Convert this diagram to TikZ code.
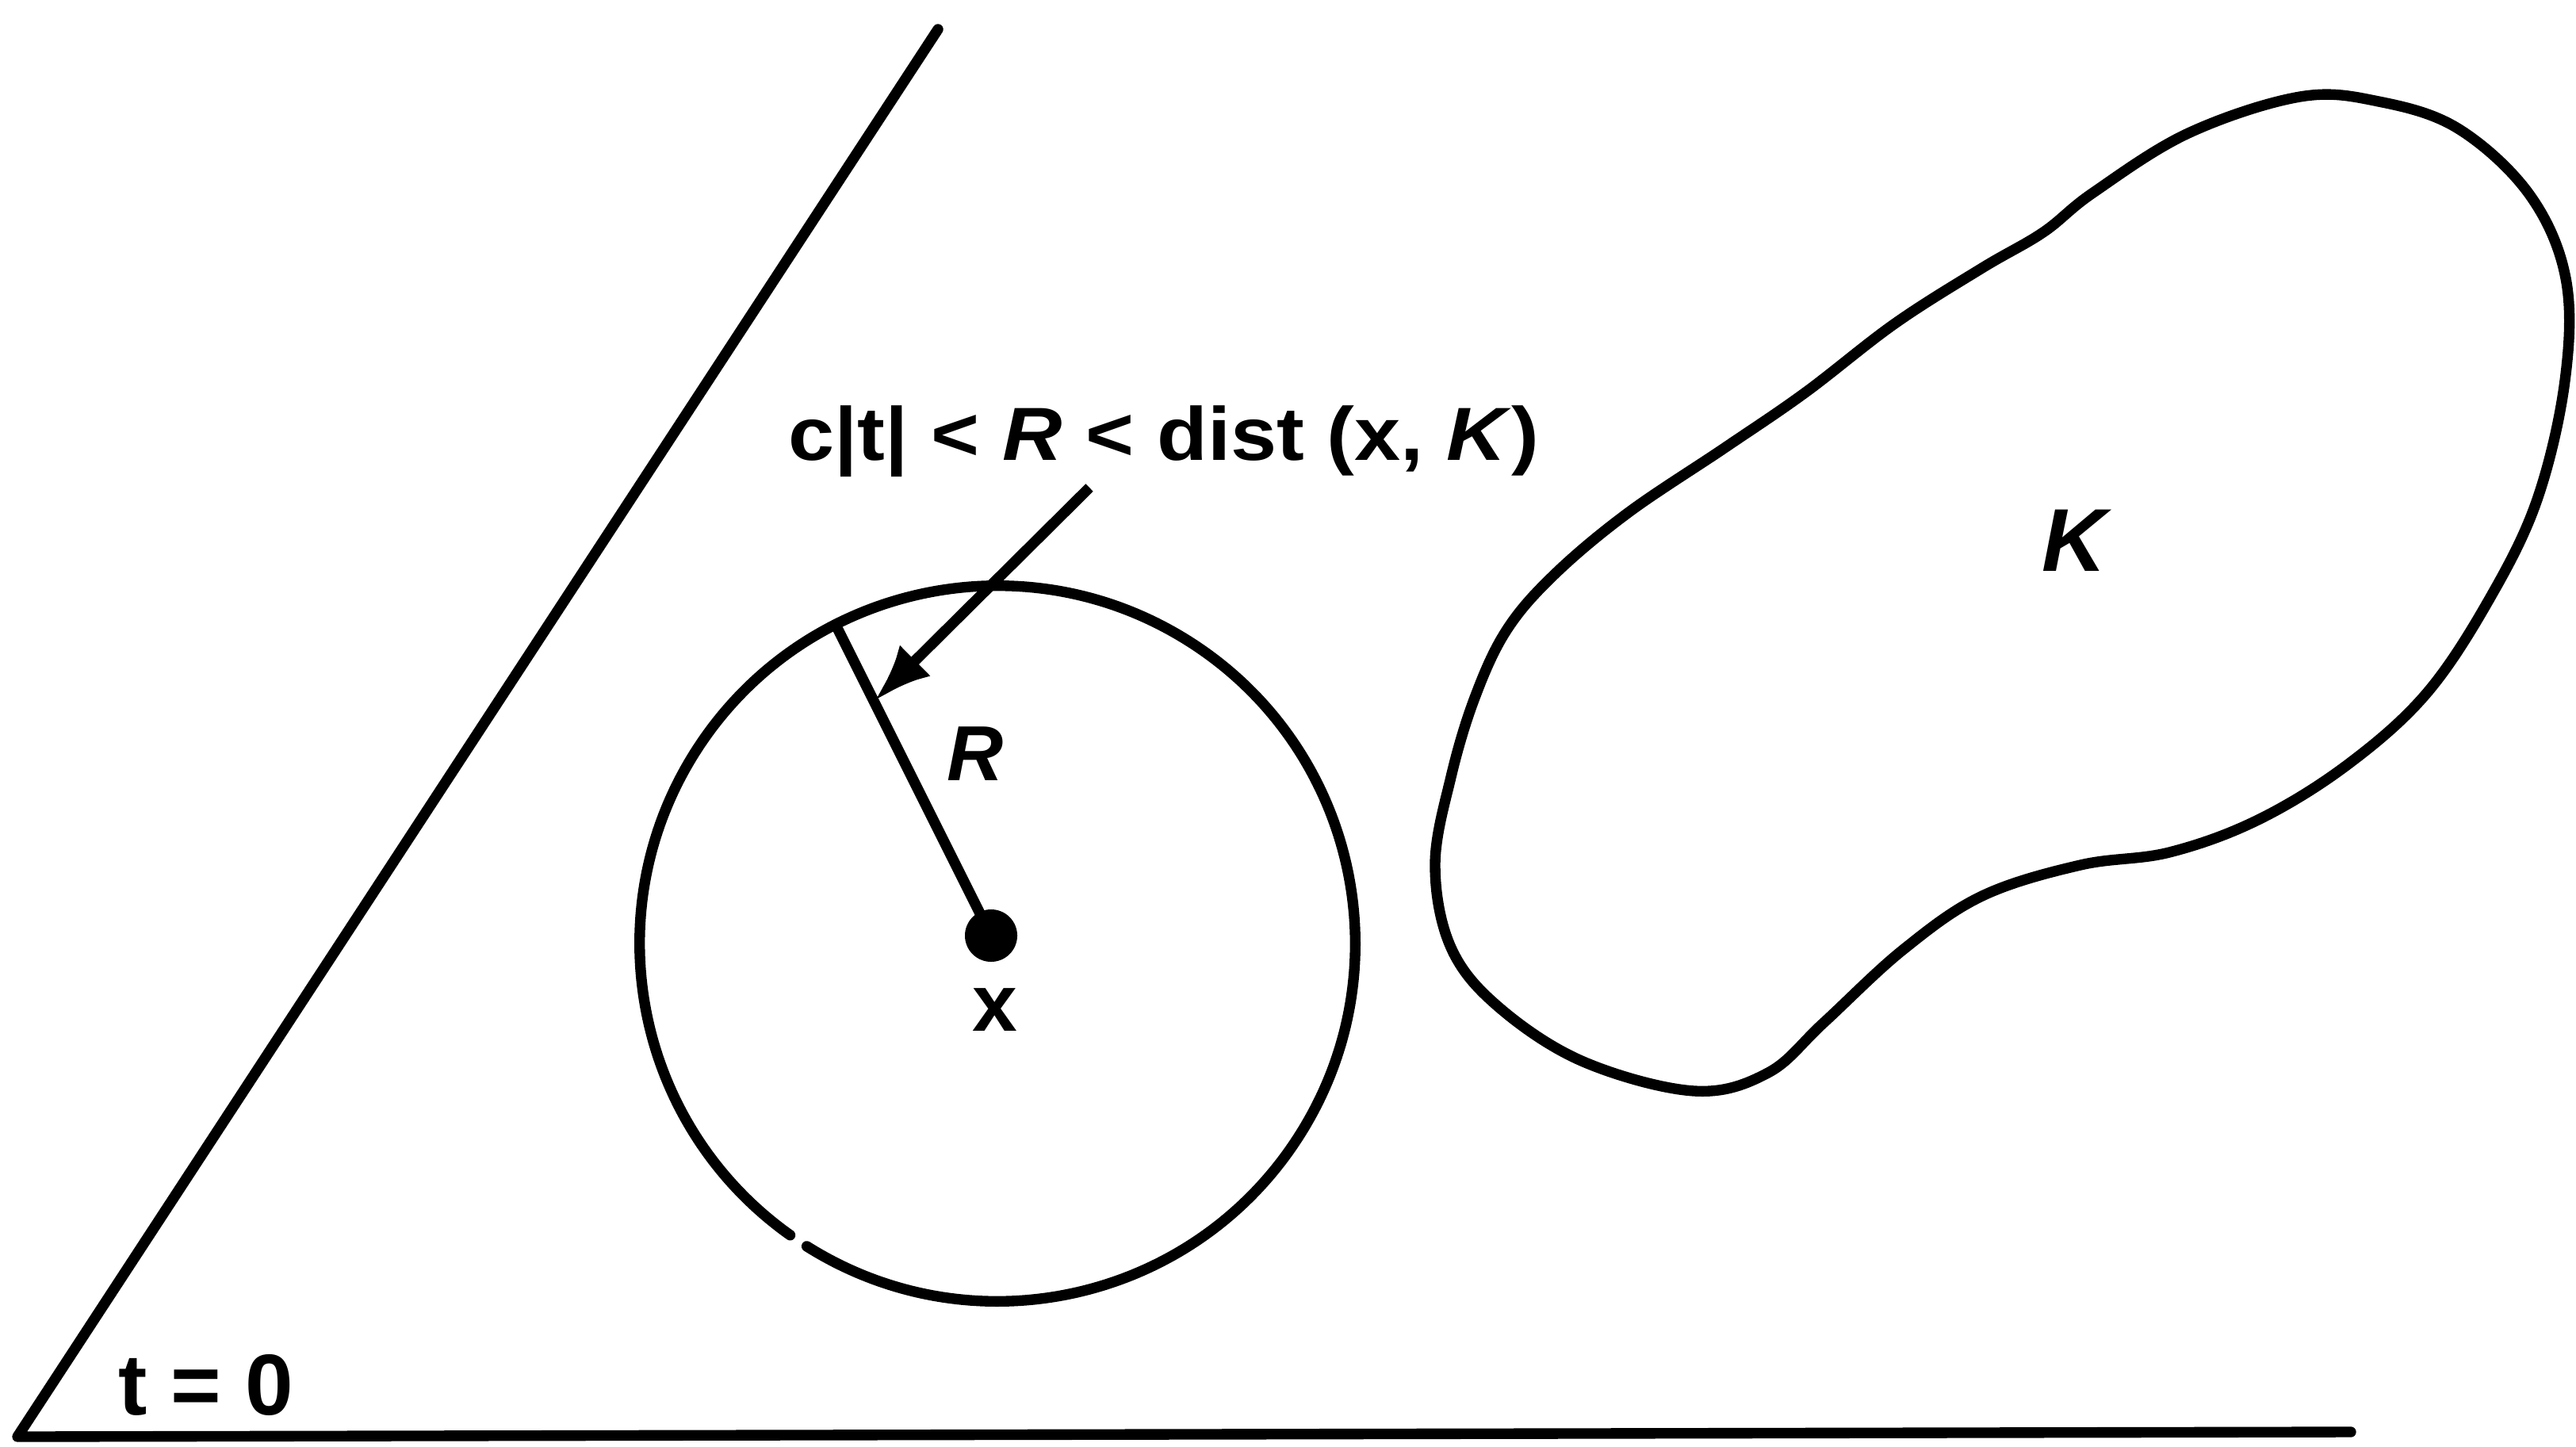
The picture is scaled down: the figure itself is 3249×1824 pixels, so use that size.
\documentclass[tikz,border=0pt]{standalone}
\usepackage{fontspec}
\setmainfont{Liberation Sans}
\usetikzlibrary{arrows.meta}
\begin{document}
\begin{tikzpicture}[x=0.01cm,y=-0.01cm,
  stroke/.style={line width=3.8pt, line cap=round, line join=round},
  lbl/.style={inner sep=0pt, anchor=base, font=\bfseries\fontsize{27}{27}\selectfont}]
\useasboundingbox (0,0) rectangle (3249,1824);

% half-plane boundaries
\coordinate (top) at (1183,37);
\coordinate (corner) at (22,1812);
\coordinate (right) at (2965,1806);
\draw[stroke] (top) -- (corner) -- (right);
\node[lbl, font=\bfseries\fontsize{31}{31}\selectfont] (t0) at (260,1784) {t = 0};

% ball of radius R around x
\coordinate (C) at (1258,1190);
\draw[stroke] ([shift={(237.8:4.51cm)}]C) arc[start angle=237.8, end angle=594.6, radius=4.51cm];
\node[circle, fill=black, inner sep=0pt, minimum size=0.66cm] (dot) at (1250,1180) {};
\node[lbl, font=\bfseries\fontsize{29}{29}\selectfont] (xl) at (1255,1300) {x};
\coordinate (P) at (1055,790);
\draw[stroke] (dot.center) -- (P);
\node[lbl, font=\bfseries\itshape\fontsize{28}{28}\selectfont] (Rl) at (1230,984) {R};

% annotation with arrow
\node[lbl] (cond) at (1468,580) {\scalebox{1.1}[1]{c|t| < \textit{R} < dist (x, \textit{K})}};
\coordinate (A0) at (1374,615);
\coordinate (A1) at (1103,884);
\draw[stroke, line cap=butt, -{Latex[length=0.72cm,width=0.55cm]}] (A0) -- (A1);

% the set K
\draw[stroke] plot[smooth cycle, tension=0.6] coordinates {
(2901,122) (2760,168) (2640,243) (2577,293) (2500,338) (2390,408) (2277,495)
(2175,565) (2053,647) (1960,725) (1900,795) (1860,880) (1830,980) (1810,1091)
(1830,1195) (1890,1270) (1997,1339) (2137,1376) (2230,1353) (2300,1290)
(2400,1198) (2500,1130) (2624,1091) (2736,1075) (2848,1034) (2960,965)
(3060,875) (3140,755) (3200,630) (3235,480) (3236,351) (3190,245) (3100,162)
(3000,128)};
\node[lbl, font=\bfseries\itshape\fontsize{32}{32}\selectfont] (Kl) at (2616,720) {K};
\end{tikzpicture}
\end{document}
